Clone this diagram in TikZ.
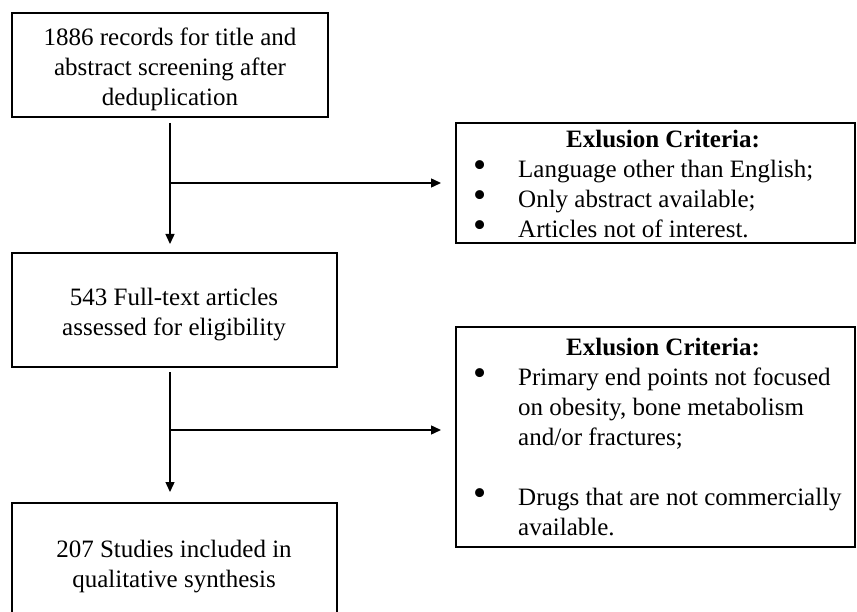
\documentclass[tikz,border=0pt]{standalone}
\usepackage{fontspec}
\usepackage{graphicx}
\setmainfont{Liberation Serif}
\usetikzlibrary{arrows.meta}
\newcommand{\bigbul}{\smash{\raisebox{-0.5pt}{\scalebox{1.5}{\textbullet}}}}
\begin{document}
\begin{tikzpicture}[x=1pt,y=-1pt,
  box/.style={draw=black, line width=1.6pt, inner sep=0pt, outer sep=0pt},
  txt/.style={inner sep=0pt, align=center, anchor=north, font=\fontsize{25}{30}\selectfont},
  ttl/.style={inner sep=0pt, anchor=north, font=\fontsize{25}{30}\selectfont\bfseries},
  lst/.style={inner sep=0pt, anchor=north west, font=\fontsize{25}{30}\selectfont},
  arr/.style={line width=1.4pt, -{Triangle[length=10pt,width=9pt]}}]
\useasboundingbox (0,0) rectangle (857,612);
\fill[white] (0,0) rectangle (857,612);
\clip (0,0) rectangle (857,612);
% boxes
\node[box, minimum width=316pt, minimum height=104pt] (b1) at (170,65) {};
\node[box, minimum width=325pt, minimum height=114pt] (b2) at (174.5,310) {};
\node[box, minimum width=325pt, minimum height=137pt] (b4) at (174.5,571.5) {};
\node[box, minimum width=399pt, minimum height=120pt] (ex1) at (655.5,183) {};
\node[box, minimum width=399pt, minimum height=220pt] (ex2) at (655.5,437) {};
% texts
\node[txt] (t1) at (170,24) {\strut 1886 records for title and\\abstract screening after\\deduplication};
\node[txt] (t2) at (174,284) {\strut 543 Full-text articles\\assessed for eligibility};
\node[txt] (t4) at (174,536) {\strut 207 Studies included in\\qualitative synthesis};
\node[ttl] (h1) at (663,126) {\strut Exlusion Criteria:};
\node[lst] (l1) at (473,156) {\begin{tabular}[t]{@{}p{45pt}@{}l@{}}
\bigbul & Language other than English;\\
\bigbul & Only abstract available;\\
\bigbul & Articles not of interest.
\end{tabular}};
\node[ttl] (h2) at (663,334) {\strut Exlusion Criteria:};
\node[lst] (l2) at (473,364) {\begin{tabular}[t]{@{}p{45pt}@{}l@{}}
\bigbul & Primary end points not focused\\
 & on obesity, bone metabolism\\
 & and/or fractures;\\
 & \\
\bigbul & Drugs that are not commercially\\
 & available.
\end{tabular}};
% connectors
\coordinate (j1) at (170,183);
\coordinate (j2) at (170,430);
\draw[arr] ([yshift=-6pt]b1.south) -- ([yshift=9pt]b2.north -| b1.south);
\draw[arr, shorten >=15pt] (j1) -- (j1 -| ex1.west);
\draw[arr] ([yshift=-5pt]b2.south -| b1.south) -- ([yshift=11pt]b4.north -| b1.south);
\draw[arr, shorten >=15pt] (j2) -- (j2 -| ex2.west);
\end{tikzpicture}
\end{document}
